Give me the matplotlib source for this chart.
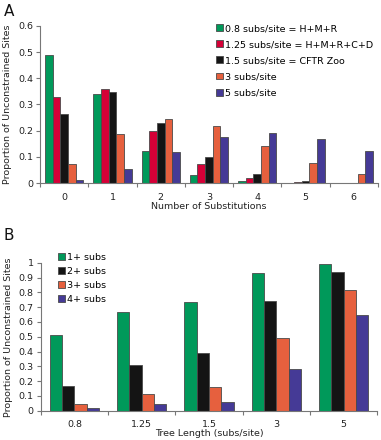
import numpy as np
import matplotlib
matplotlib.use("Agg")
import matplotlib.pyplot as plt

plt.rcParams['font.family'] = ['DejaVu Sans']

# Panel A data
subs_categories = ["0", "1", "2", "3", "4", "5", "6"]
seriesA_labels = ["0.8 subs/site = H+M+R", "1.25 subs/site = H+M+R+C+D",
                  "1.5 subs/site = CFTR Zoo", "3 subs/site", "5 subs/site"]
a_08 = [0.490, 0.342, 0.121, 0.030, 0.007, 0.002, 0.001]
a_125 = [0.330, 0.360, 0.198, 0.072, 0.020, 0.004, 0.001]
a_15 = [0.265, 0.348, 0.228, 0.100, 0.034, 0.008, 0.002]
a_3 = [0.072, 0.187, 0.246, 0.217, 0.142, 0.076, 0.033]
a_5 = [0.012, 0.055, 0.120, 0.175, 0.190, 0.167, 0.122]

# Panel B data
tree_lengths = ["0.8", "1.25", "1.5", "3", "5"]
seriesB_labels = ["1+ subs", "2+ subs", "3+ subs", "4+ subs"]
b_1 = [0.510, 0.670, 0.735, 0.930, 0.990]
b_2 = [0.165, 0.310, 0.388, 0.742, 0.935]
b_3 = [0.048, 0.110, 0.158, 0.495, 0.815]
b_4 = [0.020, 0.042, 0.058, 0.283, 0.645]

GREEN = "#00995A"
RED = "#D50037"
BLACK = "#141414"
ORANGE = "#E6603E"
BLUE = "#453A96"
EDGE = "#4a4a4a"
SPINE = "#777777"

fig = plt.figure(figsize=(3.81, 4.40), dpi=100)

def style_axes(ax, n, labels, ymax, ystep, yfmt):
    for s in ["top", "right"]:
        ax.spines[s].set_visible(False)
    for s in ["left", "bottom"]:
        ax.spines[s].set_color(SPINE)
        ax.spines[s].set_linewidth(0.8)
    ax.set_xlim(-0.5, n - 0.5)
    ax.set_ylim(0, ymax)
    yt = np.arange(0, ymax + 1e-9, ystep)
    ax.set_yticks(yt)
    ax.set_yticklabels([yfmt(v) for v in yt])
    ax.set_xticks(np.arange(n))
    ax.set_xticklabels(labels)
    ax.set_xticks(np.arange(n + 1) - 0.5, minor=True)
    ax.tick_params(axis="x", which="major", length=0, pad=7, labelsize=6.8, colors="#222222")
    ax.tick_params(axis="x", which="minor", length=3, width=0.8, color=SPINE, direction="out")
    ax.tick_params(axis="y", length=3, width=0.8, color=SPINE, labelsize=6.8, pad=2,
                   labelcolor="#222222")

# ---- Panel A ----
axA = fig.add_axes([0.105, 0.584, 0.887, 0.357])
seriesA = [a_08, a_125, a_15, a_3, a_5]
colorsA = [GREEN, RED, BLACK, ORANGE, BLUE]
x = np.arange(len(subs_categories))
wA = 0.159
for i, (vals, c, lab) in enumerate(zip(seriesA, colorsA, seriesA_labels)):
    off = (i - 2) * wA
    axA.bar(x + off, vals, width=wA, color=c, edgecolor=EDGE, linewidth=0.6, label=lab)
style_axes(axA, len(subs_categories), subs_categories, 0.6, 0.1,
           lambda v: "0" if v == 0 else f"{v:.1f}")
axA.set_xlabel("Number of Substitutions", fontsize=6.8, labelpad=0, color="#222222")
axA.set_ylabel("Proportion of Unconstrained Sites", fontsize=6.8, labelpad=4, color="#222222")
axA.legend(loc="upper left", bbox_to_anchor=(0.52, 1.012), frameon=False, fontsize=6.8,
           handlelength=0.75, handleheight=0.75, handletextpad=0.25, labelspacing=0.75,
           borderaxespad=0, borderpad=0)
fig.text(0.010, 0.974, "A", fontsize=11, ha="left", va="center", color="#111111")

# ---- Panel B ----
axB = fig.add_axes([0.107, 0.0666, 0.883, 0.336])
seriesB = [b_1, b_2, b_3, b_4]
colorsB = [GREEN, BLACK, ORANGE, BLUE]
xb = np.arange(len(tree_lengths))
wB = 0.183
for i, (vals, c, lab) in enumerate(zip(seriesB, colorsB, seriesB_labels)):
    off = (i - 1.5) * wB
    axB.bar(xb + off, vals, width=wB, color=c, edgecolor=EDGE, linewidth=0.6, label=lab)
style_axes(axB, len(tree_lengths), tree_lengths, 1.0, 0.1,
           lambda v: "0" if abs(v) < 1e-9 else ("1" if abs(v - 1) < 1e-9 else f"{v:.1f}"))
axB.set_xlabel("Tree Length (subs/site)", fontsize=6.8, labelpad=0, color="#222222")
axB.set_ylabel("Proportion of Unconstrained Sites", fontsize=6.8, labelpad=4, color="#222222")
axB.legend(loc="upper left", bbox_to_anchor=(0.05, 1.07), frameon=False, fontsize=6.8,
           handlelength=0.75, handleheight=0.75, handletextpad=0.25, labelspacing=0.55,
           borderaxespad=0, borderpad=0)
fig.text(0.008, 0.464, "B", fontsize=11, ha="left", va="center", color="#111111")

fig.savefig("out.png", dpi=100)
